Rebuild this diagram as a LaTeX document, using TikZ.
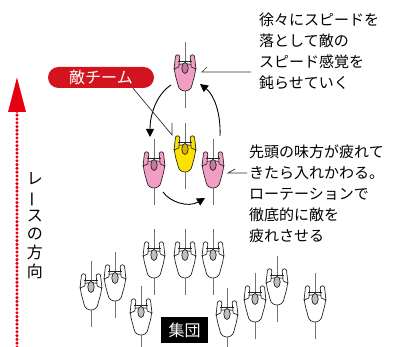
\documentclass[tikz,border=0pt]{standalone}
\usepackage{fontspec}
\newfontfamily\jp{Noto Sans CJK JP}
\usetikzlibrary{calc,arrows.meta}
\definecolor{racepink}{HTML}{F29EC4}
\definecolor{racepinkdk}{HTML}{C7789F}
\definecolor{raceyellow}{HTML}{FFE100}
\definecolor{raceyellowdk}{HTML}{D9B200}
\definecolor{teamred}{HTML}{D2141E}
\definecolor{racered}{HTML}{E60012}
\tikzset{
  body color/.store in=\bodycol, body color=white,
  head color/.store in=\headcol, head color=gray!50,
  outline/.style={draw=black!85,line width=0.7pt},
  pics/rider/.style={code={
    \draw[black!55,line width=0.9pt] (0,24) -- (0,-42);
    % torso
    \filldraw[outline,fill=\bodycol] (-10.5,0) .. controls (-11,-8) and (-8,-14) .. (-7,-19)
      .. controls (-6,-27) and (6,-27) .. (7,-19)
      .. controls (8,-14) and (11,-8) .. (10.5,0)
      .. controls (5,3) and (-5,3) .. cycle;
    % arms and hands
    \filldraw[outline,fill=\bodycol] (-11,-3) -- (-9.6,9) arc (180:0:2.2) -- (-6.2,-1) -- cycle;
    \filldraw[outline,fill=\bodycol] (11,-3) -- (9.6,9) arc (0:180:2.2) -- (6.2,-1) -- cycle;
    \draw[outline] (-7,4.5) -- (7,4.5);
    \filldraw[outline,fill=\headcol] (0,-2) ellipse (3.2 and 5.5);
  }},
  turn/.style={black,line width=0.9pt,-{Triangle[length=8pt,width=8pt]}},
  callout/.style={black!80,line width=0.7pt},
  note/.style={anchor=north west,align=left,inner sep=0pt,font=\jp\fontsize{15}{21}\selectfont},
  tagbox/.style={fill=#1,text=white,inner sep=0pt,font=\jp\fontsize{16}{16}\selectfont}
}

\begin{document}
\begin{tikzpicture}[x=1pt,y=1pt]
  \useasboundingbox (0,0) rectangle (407,347);

  % direction of the race
  \coordinate (dirtail) at (17,0);
  \coordinate (dirtip)  at (17,270);
  \draw[racered,line width=3.4pt,line cap=round,dash pattern=on 0pt off 3.8pt,
        -{Triangle[length=35pt,width=17pt]}] (dirtail) -- (dirtip);
  \node[anchor=north,align=center,inner sep=0pt,font=\jp\fontsize{16}{18.6}\selectfont]
    (dir) at (35,175) {レ\\\rotatebox[origin=c]{90}{ー}\\ス\\の\\方\\向};

  % the pack
  \foreach \x/\y in {154/94,185/94,213/94,91/62,115/71,277/67,255/50,315/50,141/37,227/35}
    \pic at (\x,\y) {rider};
  \node[tagbox=black,minimum width=47pt,minimum height=26pt] (pack) at (184.5,17) {集団};

  % rotating group
  \coordinate (lead)  at (185,281);
  \coordinate (guest) at (185,200);
  \coordinate (left)  at (154,184);
  \coordinate (right) at (213,184);
  \pic[body color=racepink,head color=racepinkdk] at (lead) {rider};
  \pic[body color=racepink,head color=racepinkdk] at (left) {rider};
  \pic[body color=racepink,head color=racepinkdk] at (right) {rider};
  \pic[body color=raceyellow,head color=raceyellowdk] at (guest) {rider};

  \coordinate (a1) at (171,262);
  \coordinate (b1) at (150,210);
  \coordinate (a2) at (163,155);
  \coordinate (b2) at (205,149);
  \coordinate (a3) at (220,211);
  \coordinate (b3) at (200,263);
  \draw[turn] (a1) .. controls (156,252) and (150,232) .. (b1);
  \draw[turn] (a2) .. controls (170,145) and (188,139) .. (b2);
  \draw[turn] (a3) .. controls (221,236) and (213,253) .. (b3);

  % enemy team tag
  \node[tagbox=teamred,rounded corners=10.5pt,minimum width=106pt,minimum height=21pt]
    (team) at (101,269.5) {敵チーム};
  \coordinate (t1) at (172,212);
  \draw[callout] ([xshift=32pt]team.south) -- (t1) -- ++(0,12);

  % notes
  \node[note] (slow) at (259,334)
    {徐々にスピードを\\落として敵の\\スピード感覚を\\鈍らせていく};
  \coordinate (c1) at (202,275);
  \draw[callout] ([xshift=-8pt]slow.west |- c1) -- (c1) -- ++(5,5);

  \node[note] (tired) at (249,202)
    {先頭の味方が疲れて\\きたら入れかわる。\\ローテーションで\\徹底的に敵を\\疲れさせる};
  \coordinate (c2) at (228,174);
  \draw[callout] ([xshift=-2pt]tired.west |- c2) -- (c2) -- ++(7,4);
\end{tikzpicture}
\end{document}
